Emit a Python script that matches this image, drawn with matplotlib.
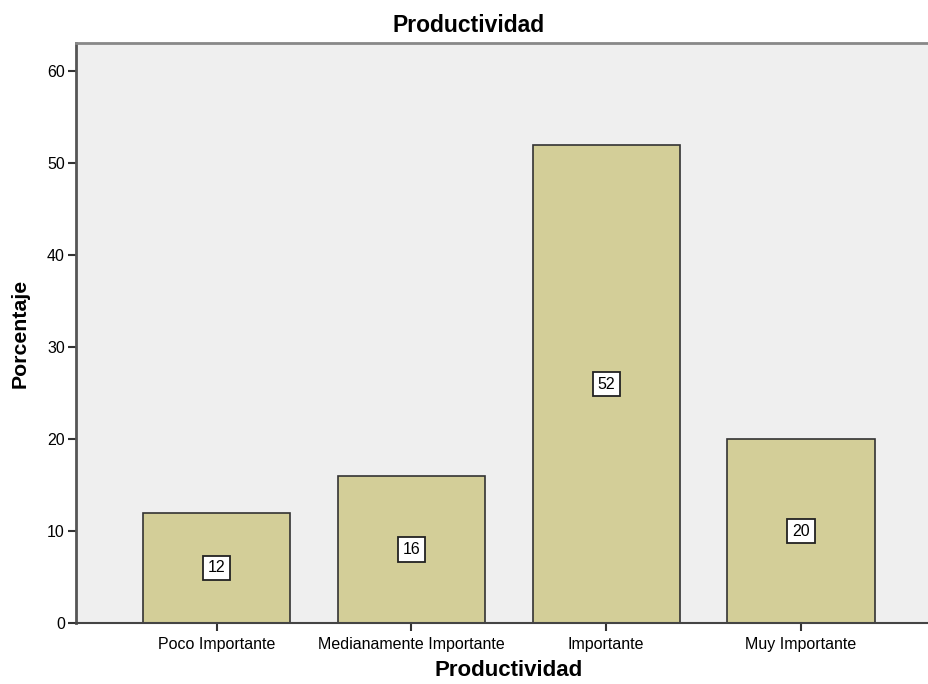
import matplotlib
matplotlib.use("Agg")
import matplotlib.pyplot as plt
import numpy as np

categories = ["Poco Importante", "Medianamente Importante", "Importante", "Muy Importante"]
porcentajes = [12, 16, 52, 20]
yticks = [0, 10, 20, 30, 40, 50, 60]

plt.rcParams["font.family"] = ["Liberation Sans", "DejaVu Sans"]

fig = plt.figure(figsize=(9.29, 6.84), dpi=100)
ax = fig.add_axes([76 / 929, 1 - 623 / 684, 1 - 76 / 929, (623 - 43) / 684])
ax.set_facecolor("#efefef")

x = np.arange(len(categories))
bars = ax.bar(x, porcentajes, width=0.755, color="#d3ce98", edgecolor="#333333",
              linewidth=1.2, zorder=2)

for xi, v in zip(x, porcentajes):
    ax.text(xi, v / 2, str(v), ha="center", va="center", fontsize=11.5, zorder=3,
            bbox=dict(boxstyle="square,pad=0.3", facecolor="white",
                      edgecolor="#222222", linewidth=1.3))

ax.set_xlim(-0.722, 3.657)
ax.set_ylim(0, 63.1)
ax.set_xticks(x)
ax.set_xticklabels(categories, fontsize=11.5)
ax.set_yticks(yticks)
ax.tick_params(axis="y", labelsize=11.5, length=6, width=1.5, color="#333333", pad=2)
ax.tick_params(axis="x", length=6, width=1.5, color="#333333", pad=4)

ax.spines["right"].set_visible(False)
ax.spines["top"].set_color("#888888")
ax.spines["top"].set_linewidth(2)
ax.spines["left"].set_color("#555555")
ax.spines["left"].set_linewidth(2)
ax.spines["bottom"].set_color("#444444")
ax.spines["bottom"].set_linewidth(1.5)

fig.text(469 / 929, 1 - 25 / 684, "Productividad", ha="center", va="center",
         fontsize=16.5, fontweight="bold")
fig.text(509 / 929, 1 - 671 / 684, "Productividad", ha="center", va="center",
         fontsize=16, fontweight="bold")
fig.text(20 / 929, 1 - 333 / 684, "Porcentaje", ha="center", va="center",
         rotation=90, fontsize=15.3, fontweight="bold")

fig.savefig("out.png", dpi=100)
